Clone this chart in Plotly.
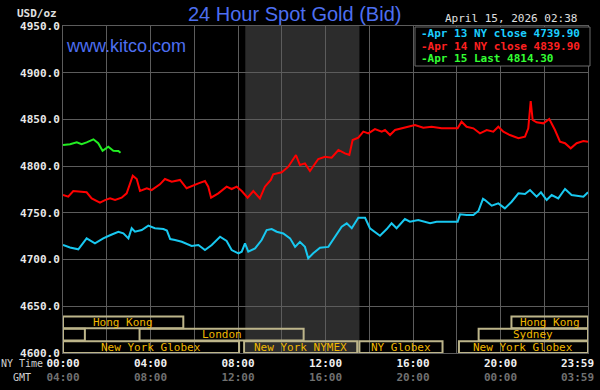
import plotly.graph_objects as go

# ---------------- data ----------------
apr13_t = [0.0, 0.32, 0.70, 1.08, 1.46, 1.84, 2.15, 2.53, 2.76, 2.99, 3.14, 3.29, 3.6, 3.9, 4.2, 4.59,
           4.75, 4.9, 5.12, 5.43, 5.88, 6.19, 6.49, 6.80, 7.18, 7.48, 7.71, 8.02, 8.17, 8.32, 8.47, 8.78,
           9.08, 9.31, 9.54, 9.77, 10.07, 10.38, 10.61, 10.83, 11.06, 11.21, 11.44, 11.75, 12.13, 12.43,
           12.74, 12.97, 13.2, 13.5, 13.81, 14.03, 14.26, 14.49, 14.8, 15.02, 15.25, 15.63, 15.86, 16.24,
           16.78, 17.08, 18.04, 18.15, 18.45, 18.76, 18.99, 19.2, 19.29, 19.6, 19.9, 20.2, 20.51, 20.82,
           21.12, 21.35, 21.65, 21.85, 22.11, 22.34, 22.64, 22.95, 23.25, 23.79, 24.0]
apr13_v = [4715.6, 4713.0, 4711.0, 4722.7, 4717.4, 4722.7, 4726.0, 4729.8, 4728.0, 4722.7, 4733.5, 4729.8,
           4731.6, 4736.3, 4733.5, 4732.7, 4731.0, 4722.0, 4720.9, 4719.0, 4714.5, 4715.6, 4710.2, 4715.6,
           4724.5, 4719.9, 4710.2, 4706.7, 4708.4, 4717.4, 4708.4, 4712.0, 4720.9, 4731.6, 4732.7, 4729.8,
           4728.0, 4722.7, 4713.6, 4719.0, 4713.6, 4701.4, 4706.7, 4712.7, 4713.6, 4724.5, 4735.2, 4738.8,
           4733.5, 4744.8, 4744.8, 4733.5, 4729.8, 4725.5, 4732.7, 4738.8, 4733.5, 4743.4, 4740.5, 4742.3,
           4738.8, 4740.5, 4740.5, 4748.4, 4747.7, 4747.7, 4752.0, 4765.0, 4763.7, 4757.7, 4760.1, 4754.8,
           4761.9, 4770.9, 4770.2, 4774.4, 4767.3, 4772.0, 4763.7, 4769.1, 4765.5, 4775.5, 4769.1, 4767.3,
           4772.0]

apr14_t = [0.0, 0.24, 0.47, 0.78, 1.08, 1.31, 1.69, 1.92, 2.15, 2.38, 2.68, 2.91, 3.19, 3.37, 3.52, 3.83,
           4.05, 4.43, 4.66, 4.97, 5.35, 5.65, 5.96, 6.19, 6.49, 6.64, 6.77, 7.1, 7.48, 7.71, 7.94, 8.17,
           8.44, 8.7, 9.0, 9.23, 9.5, 9.61, 10.0, 10.3, 10.65, 10.83, 11.06, 11.29, 11.67, 11.98, 12.28,
           12.59, 12.89, 13.09, 13.24, 13.5, 13.73, 13.96, 14.26, 14.57, 14.72, 14.95, 15.18, 15.63, 16.09,
           16.47, 16.85, 17.31, 18.04, 18.22, 18.45, 18.76, 19.06, 19.37, 19.67, 19.9, 20.13, 20.43, 20.82,
           21.12, 21.27, 21.38, 21.47, 21.65, 21.96, 22.23, 22.49, 22.72, 22.95, 23.21, 23.48, 23.79, 24.0]
apr14_v = [4769.1, 4767.3, 4773.4, 4772.7, 4772.0, 4765.5, 4760.9, 4763.7, 4765.5, 4763.7, 4766.2, 4770.9,
           4789.8, 4786.2, 4773.4, 4776.3, 4774.4, 4780.5, 4786.2, 4783.3, 4785.2, 4776.3, 4779.8, 4781.6,
           4784.1, 4778.0, 4766.2, 4770.9, 4778.0, 4775.5, 4778.0, 4773.4, 4766.2, 4773.4, 4765.5, 4778.0,
           4785.2, 4791.3, 4793.4, 4799.4, 4811.9, 4801.2, 4803.0, 4794.8, 4807.6, 4810.1, 4809.0, 4817.3,
           4813.7, 4811.9, 4828.0, 4830.4, 4836.9, 4835.1, 4839.7, 4836.9, 4838.7, 4833.3, 4838.7, 4841.1,
           4844.0, 4841.1, 4842.2, 4840.5, 4840.5, 4847.6, 4842.2, 4840.5, 4835.1, 4838.7, 4836.9, 4842.2,
           4836.9, 4833.3, 4829.8, 4831.5, 4840.5, 4869.7, 4849.4, 4846.9, 4845.8, 4850.5, 4838.7, 4826.2,
           4824.5, 4819.1, 4824.5, 4826.9, 4826.2]

apr15_t = [0.0, 0.32, 0.63, 0.85, 1.08, 1.39, 1.61, 1.81, 2.07, 2.3, 2.53, 2.63]
apr15_v = [4822.6, 4823.4, 4825.5, 4823.4, 4825.5, 4828.7, 4824.5, 4816.5, 4820.8, 4816.5, 4816.2, 4814.3]

legend_labels = ["Apr 13 NY close 4739.90", "Apr 14 NY close 4839.90", "Apr 15 Last 4814.30"]

ny_ticks = [0, 4, 8, 12, 16, 20]
ny_labels = ["00:00", "04:00", "08:00", "12:00", "16:00", "20:00"]
gmt_labels = ["04:00", "08:00", "12:00", "16:00", "20:00", "00:00"]
end_label_ny, end_label_gmt = "23:59", "03:59"

y_ticks = [4600, 4650, 4700, 4750, 4800, 4850, 4900, 4950]

# trading sessions: name, start hour, end hour, row (0 = NY, 1 = London, 2 = HK/Sydney)
sess_names = ["Hong Kong", "", "London", "New York Globex", "New York NYMEX", "NY Globex",
              "New York Globex", "Sydney", "Hong Kong"]
sess_start = [0.0, 0.0, 3.5, 0.0, 8.28, 13.55, 18.1, 19.0, 20.5]
sess_end = [5.5, 1.0, 11.0, 8.05, 13.45, 17.35, 24.0, 24.0, 24.0]
sess_row = [2, 1, 1, 0, 0, 0, 0, 1, 2]

nymex_open, nymex_close = 8.333, 13.55

# ---------------- styling ----------------
MONO = "DejaVu Sans Mono"
GRID = "#5c5c5c"
BOX = "#bdb58a"
AMBER = "#f0b800"
row_lo = [4600.0, 4613.3, 4626.6]
row_hi = [4612.6, 4625.9, 4639.0]

fig = go.Figure()
fig.add_trace(go.Scatter(x=apr13_t, y=apr13_v, mode="lines", line=dict(color="#18c8f0", width=2),
                         hoverinfo="skip", showlegend=False))
fig.add_trace(go.Scatter(x=apr14_t, y=apr14_v, mode="lines", line=dict(color="#ff0000", width=2),
                         hoverinfo="skip", showlegend=False))
fig.add_trace(go.Scatter(x=apr15_t, y=apr15_v, mode="lines", line=dict(color="#22ee22", width=2),
                         hoverinfo="skip", showlegend=False, xaxis="x2"))

shapes = []
# NYMEX shading
shapes.append(dict(type="rect", xref="x", yref="paper", x0=nymex_open, x1=nymex_close, y0=0, y1=1,
                   fillcolor="#2c2c2c", line=dict(width=0), layer="below"))
annotations = []
for name, s, e, r in zip(sess_names, sess_start, sess_end, sess_row):
    shapes.append(dict(type="rect", xref="x", yref="y", x0=s, x1=e, y0=row_lo[r], y1=row_hi[r],
                       line=dict(color=BOX, width=2), fillcolor="rgba(0,0,0,0)", layer="above"))
    if name:
        annotations.append(dict(x=(s + e) / 2, y=(row_lo[r] + row_hi[r]) / 2, xref="x", yref="y",
                                xanchor="center", yanchor="middle",
                                text=name, showarrow=False,
                                font=dict(family=MONO, size=11, color=AMBER)))

# legend box
def px_x(px):
    return (px - 63) / 525.0

def px_y(py):
    return (353 - py) / 327.0

shapes.append(dict(type="rect", xref="paper", yref="paper", x0=px_x(415), x1=px_x(590),
                   y0=px_y(66), y1=px_y(27), fillcolor="#000000", line=dict(color="#6a6a6a", width=1),
                   layer="above"))
leg_colors = ["#1ccfff", "#ff2020", "#33ff33"]
for i, (lab, col) in enumerate(zip(legend_labels, leg_colors)):
    annotations.append(dict(x=px_x(419), y=px_y(33 + i * 13), xref="paper", yref="paper",
                            xanchor="left", yanchor="middle", text="-" + lab, showarrow=False,
                            font=dict(family=MONO, size=11, color=col, weight="bold")))

# texts
def txt(x, y, text, xanchor, font, xref="paper"):
    return dict(x=x, y=y, xref=xref, yref="paper", xanchor=xanchor, yanchor="middle",
                text=text, showarrow=False, font=font)

annotations += [
    txt(px_x(294), px_y(14), "24 Hour Spot Gold (Bid)", "center",
        dict(family="Liberation Sans", size=20, color="#4d6ff0")),
    txt(px_x(64), px_y(46), "www.kitco.com", "left",
        dict(family="Liberation Sans", size=18, color="#4d6ff0")),
    txt(px_x(579), px_y(19), "April 15, 2026 02:38", "right",
        dict(family=MONO, size=11, color="#e0e0e0")),
    txt(px_x(59), px_y(13), "USD/oz", "right",
        dict(family=MONO, size=11, color="#e0e0e0", weight="bold")),
    txt(px_x(22), px_y(363), "NY Time", "center",
        dict(family=MONO, size=10, color="#d0d0d0")),
    txt(px_x(22), px_y(377), "GMT", "center",
        dict(family=MONO, size=10, color="#d0d0d0")),
    dict(x=24, y=px_y(363), xref="x", yref="paper", xanchor="right", yanchor="middle", xshift=8,
         text=end_label_ny, showarrow=False,
         font=dict(family=MONO, size=11, color="#f0f0f0", weight="bold")),
    dict(x=24, y=px_y(377), xref="x", yref="paper", xanchor="right", yanchor="middle", xshift=8,
         text=end_label_gmt, showarrow=False,
         font=dict(family=MONO, size=11, color="#707070", weight="bold")),
]

ticktext = [f"{a}<br><span style='color:#707070'>{b}</span>" for a, b in zip(ny_labels, gmt_labels)]

fig.update_layout(
    width=600, height=390,
    margin=dict(l=63, r=12, t=26, b=37, pad=0, autoexpand=False),
    paper_bgcolor="#000000", plot_bgcolor="#000000",
    showlegend=False,
    shapes=shapes, annotations=annotations,
    xaxis=dict(range=[0, 24], tickmode="linear", tick0=0, dtick=2, showticklabels=False,
               showgrid=True, gridcolor=GRID, gridwidth=1, zeroline=False, showline=True,
               linecolor=GRID, mirror=True, ticks="", automargin=False),
    xaxis2=dict(range=[0, 24], overlaying="x", anchor="y", side="bottom", tickmode="array",
                tickvals=ny_ticks, ticktext=ticktext, showgrid=False, zeroline=False, ticks="",
                ticklabelstandoff=2, automargin=False,
                tickfont=dict(family=MONO, size=11, color="#f0f0f0", weight="bold")),
    yaxis=dict(range=[4600, 4950], tickmode="array", tickvals=y_ticks, tickformat=".1f",
               showgrid=True, gridcolor=GRID, gridwidth=1, zeroline=False, showline=True,
               linecolor=GRID, mirror=True, ticks="", automargin=False,
               tickfont=dict(family=MONO, size=11, color="#e8e8e8", weight="bold")),
)

fig.write_html("out.html", config={"displayModeBar": False},
               post_script="document.body.style.margin='0';document.body.style.background='#000';")
